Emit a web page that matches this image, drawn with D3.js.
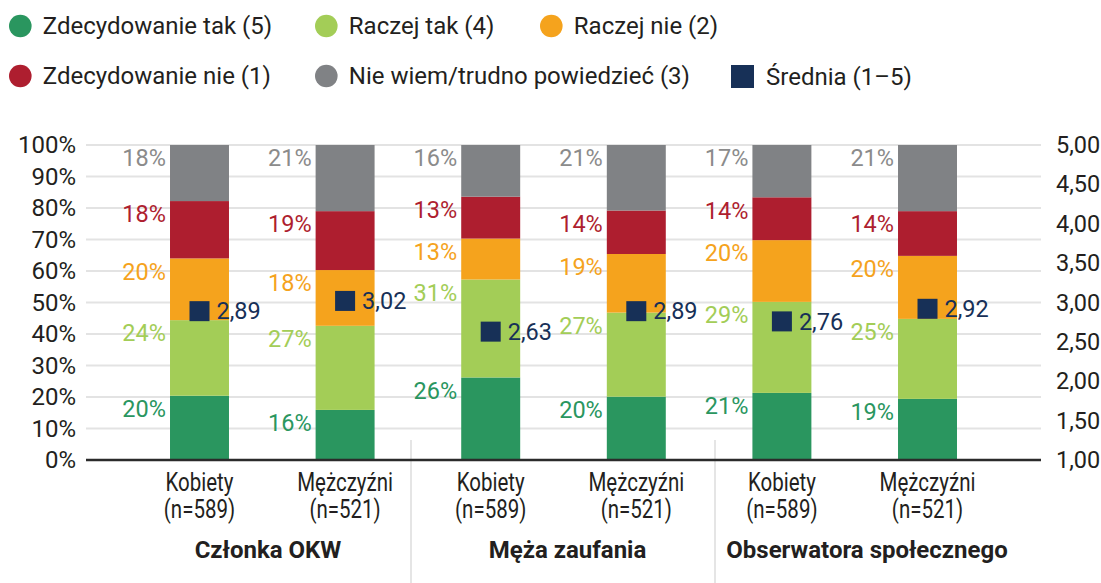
<!DOCTYPE html>
<html>
<head>
<meta charset="utf-8">
<script src="https://cdn.jsdelivr.net/npm/d3@7"></script>
<style>
  html, body { margin: 0; padding: 0; background: #fff; }
  svg { display: block; font-family: Roboto, "Noto Sans", sans-serif; }
</style>
</head>
<body>
<svg id="chart" width="1101" height="583"></svg>
<script>
// categories
const sexes = ["Kobiety", "Mężczyźni", "Kobiety", "Mężczyźni", "Kobiety", "Mężczyźni"];
const sampleN = [589, 521, 589, 521, 589, 521];
const groups = ["Członka OKW", "Męża zaufania", "Obserwatora społecznego"];

// series values (% of answers), bottom to top
const zdecydowanieTak = [20.4, 15.9, 26.2, 20.1, 21.3, 19.4];
const raczejTak = [24.0, 26.7, 31.1, 26.7, 28.9, 25.4];
const raczejNie = [19.6, 17.7, 13.0, 18.6, 19.6, 20.0];
const zdecydowanieNie = [18.2, 18.7, 13.3, 13.8, 13.6, 14.2];
const nieWiem = [17.8, 21.0, 16.4, 20.8, 16.6, 21.0];

// mean on 1-5 scale
const srednia = [2.89, 3.02, 2.63, 2.89, 2.76, 2.92];

// tick labels
const leftTicks = [0, 10, 20, 30, 40, 50, 60, 70, 80, 90, 100];
const rightTicks = [1, 1.5, 2, 2.5, 3, 3.5, 4, 4.5, 5];

const seriesNames = ["Zdecydowanie tak (5)", "Raczej tak (4)", "Raczej nie (2)",
                     "Zdecydowanie nie (1)", "Nie wiem/trudno powiedzieć (3)"];
const seriesKeys = ["zt", "rt", "rn", "zn", "nw"];
const colors = ["#2a965f", "#a3cd57", "#f5a31d", "#ae1e2f", "#808285"];
const labelColors = ["#2a965f", "#a3cd57", "#f5a31d", "#ae1e2f", "#8b8b8b"];
const navy = "#173057";

const rows = sexes.map((s, i) => ({
  id: i, zt: zdecydowanieTak[i], rt: raczejTak[i], rn: raczejNie[i],
  zn: zdecydowanieNie[i], nw: nieWiem[i], mean: srednia[i]
}));

const svg = d3.select("#chart");
const plotLeft = 86, plotRight = 1041, plotTop = 145, plotBottom = 460;

const x = d3.scaleBand()
  .domain(rows.map(d => d.id))
  .range([plotLeft, plotRight])
  .paddingInner(0.595)
  .paddingOuter(0.577);

const y = d3.scaleLinear().domain([0, 100]).range([plotBottom, plotTop]);
const y2 = d3.scaleLinear().domain([1, 5]).range([plotBottom, plotTop]);

// group boundaries and group label positions
const groupX = d3.scaleBand().domain(groups).range([107, 1019]);
const groupLabelX = d3.scalePoint().domain(groups).range([268, 867]);

// gridlines
svg.append("g")
  .selectAll("line")
  .data(leftTicks.slice(1))
  .join("line")
  .attr("x1", plotLeft).attr("x2", plotRight)
  .attr("y1", d => y(d)).attr("y2", d => y(d))
  .attr("stroke", "#e3e3e3")
  .attr("stroke-width", 2);

// group separators
svg.append("g")
  .selectAll("line")
  .data(groups.slice(1))
  .join("line")
  .attr("x1", d => groupX(d)).attr("x2", d => groupX(d))
  .attr("y1", 440).attr("y2", 583)
  .attr("stroke", "#dcdcdc")
  .attr("stroke-width", 1.5);

// stacked bars
const stack = d3.stack().keys(seriesKeys)(rows);

const layers = svg.append("g")
  .selectAll("g")
  .data(stack)
  .join("g")
  .attr("fill", (d, i) => colors[i]);

layers.selectAll("rect")
  .data(d => d)
  .join("rect")
  .attr("x", d => x(d.data.id))
  .attr("width", x.bandwidth())
  .attr("y", d => y(d[1]))
  .attr("height", d => y(d[0]) - y(d[1]));

// percent labels, left of each bar near segment top
svg.append("g")
  .selectAll("g")
  .data(stack)
  .join("g")
  .attr("fill", (d, i) => labelColors[i])
  .selectAll("text")
  .data(d => d)
  .join("text")
  .attr("x", d => x(d.data.id) - 4)
  .attr("y", d => y(d[1]) + 13)
  .attr("dy", "0.35em")
  .attr("text-anchor", "end")
  .style("font-size", "23.5px")
  .text(d => Math.round(d[1] - d[0]) + "%");

// axis line
svg.append("line")
  .attr("x1", plotLeft).attr("x2", plotRight)
  .attr("y1", plotBottom).attr("y2", plotBottom)
  .attr("stroke", "#2b2b2b")
  .attr("stroke-width", 2.5);

// left axis
const yAxis = svg.append("g")
  .attr("transform", `translate(${plotLeft - 10},0)`)
  .call(d3.axisLeft(y).tickValues(leftTicks).tickSize(0).tickPadding(0).tickFormat(d => d + "%"));
yAxis.select(".domain").remove();
yAxis.selectAll("text").style("font-size", "24px").attr("fill", "#231f20")
  .style("font-family", "Roboto, sans-serif");

// right axis
const y2Axis = svg.append("g")
  .attr("transform", `translate(${plotRight + 15},0)`)
  .call(d3.axisRight(y2).tickValues(rightTicks).tickSize(0).tickPadding(0)
    .tickFormat(d => d3.format(".2f")(d).replace(".", ",")));
y2Axis.select(".domain").remove();
y2Axis.selectAll("text").style("font-size", "23.5px").attr("fill", "#231f20")
  .style("font-family", "Roboto, sans-serif");

// mean markers
const means = svg.append("g")
  .selectAll("g")
  .data(rows)
  .join("g")
  .attr("transform", d => `translate(${x(d.id) + x.bandwidth() / 2},${y2(d.mean)})`);
means.append("rect")
  .attr("x", -10).attr("y", -10)
  .attr("width", 20).attr("height", 20)
  .attr("fill", navy);
means.append("text")
  .attr("x", 17)
  .attr("dy", "0.35em")
  .attr("fill", navy)
  .style("font-size", "23.5px")
  .text(d => d3.format(".2f")(d.mean).replace(".", ","));

// category labels (condensed look)
const cats = svg.append("g")
  .selectAll("g")
  .data(rows)
  .join("g")
  .attr("transform", d => `translate(${x(d.id) + x.bandwidth() / 2},0) scale(0.82,1)`);
cats.append("text")
  .attr("y", 491)
  .attr("text-anchor", "middle")
  .attr("fill", "#231f20")
  .style("font-size", "25px")
  .text(d => sexes[d.id]);
cats.append("text")
  .attr("y", 518)
  .attr("text-anchor", "middle")
  .attr("fill", "#231f20")
  .style("font-size", "25px")
  .text(d => `(n=${sampleN[d.id]})`);

// group labels
svg.append("g")
  .selectAll("text")
  .data(groups)
  .join("text")
  .attr("x", d => groupLabelX(d))
  .attr("y", 558)
  .attr("text-anchor", "middle")
  .attr("fill", "#231f20")
  .style("font-size", "24px")
  .style("font-weight", "bold")
  .text(d => d);

// legend
const legendItems = [
  { name: seriesNames[0], color: colors[0], shape: "circle", cx: 20.3, cy: 26 },
  { name: seriesNames[1], color: colors[1], shape: "circle", cx: 326.3, cy: 26 },
  { name: seriesNames[2], color: colors[2], shape: "circle", cx: 551.3, cy: 26 },
  { name: seriesNames[3], color: colors[3], shape: "circle", cx: 20.3, cy: 76 },
  { name: seriesNames[4], color: colors[4], shape: "circle", cx: 326.3, cy: 76 },
  { name: "Średnia (1–5)", color: navy, shape: "square", cx: 742.5, cy: 76.5 }
];

const legend = svg.append("g")
  .selectAll("g")
  .data(legendItems)
  .join("g")
  .attr("transform", d => `translate(${d.cx},${d.cy})`);

legend.filter(d => d.shape === "circle")
  .append("circle")
  .attr("r", 11.3)
  .attr("fill", d => d.color);
legend.filter(d => d.shape === "square")
  .append("rect")
  .attr("x", -11.5).attr("y", -11.5)
  .attr("width", 23).attr("height", 23)
  .attr("fill", d => d.color);
legend.append("text")
  .attr("x", d => d.shape === "circle" ? 22.5 : 23.5)
  .attr("dy", "0.35em")
  .attr("fill", "#231f20")
  .style("font-size", "24px")
  .text(d => d.name);
</script>
</body>
</html>
